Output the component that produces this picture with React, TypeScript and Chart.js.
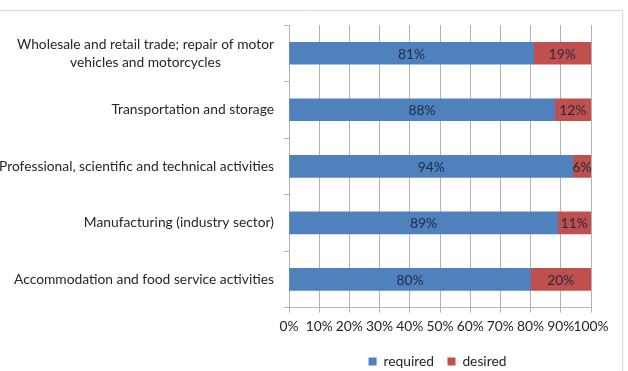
import React, { useEffect, useRef } from "react";
import { Chart, registerables } from "chart.js";

Chart.register(...registerables);

const categories: string[][] = [
  ["Wholesale and retail trade; repair of motor", "vehicles and motorcycles"],
  ["Transportation and storage"],
  ["Professional, scientific and technical activities"],
  ["Manufacturing (industry sector)"],
  ["Accommodation and food service activities"],
];
const required = [81, 88, 94, 89, 80];
const desired = [19, 12, 6, 11, 20];
const xTicks = [0, 10, 20, 30, 40, 50, 60, 70, 80, 90, 100];

const FONT = "Lato, 'Open Sans', sans-serif";
const FS = 13.8;
const TEXT = "#262626";
const GRID = "#b3b3b3";

const decorPlugin = {
  id: "decor",
  beforeDraw(chart: any) {
    const ctx = chart.ctx;
    ctx.save();
    ctx.strokeStyle = "#d9d9d9";
    ctx.lineWidth = 1;
    ctx.beginPath();
    ctx.moveTo(0, 10.5);
    ctx.lineTo(622.5, 10.5);
    ctx.lineTo(622.5, 371);
    ctx.stroke();
    ctx.restore();
  },
  afterDraw(chart: any) {
    const ctx = chart.ctx;
    const y = chart.scales.y;
    ctx.save();
    ctx.font = `${FS}px ${FONT}`;
    ctx.fillStyle = TEXT;
    ctx.textBaseline = "middle";
    const rightX = y.left - 10;
    categories.forEach((lines, i) => {
      const cy = y.getPixelForValue(i);
      const widths = lines.map((l) => ctx.measureText(l).width);
      const maxW = Math.max(...widths);
      const lh = 18;
      lines.forEach((l, j) => {
        const ly = cy + (j - (lines.length - 1) / 2) * lh;
        if (lines.length > 1) {
          ctx.textAlign = "center";
          ctx.fillText(l, rightX - maxW / 2, ly);
        } else {
          ctx.textAlign = "right";
          ctx.fillText(l, rightX, ly);
        }
      });
    });
    // data labels
    ctx.fillStyle = "#1f2a44";
    ctx.textAlign = "center";
    chart.data.datasets.forEach((ds: any, di: number) => {
      const meta = chart.getDatasetMeta(di);
      meta.data.forEach((bar: any, i: number) => {
        const { x, base, y: by } = bar.getProps(["x", "base", "y"], true);
        ctx.fillText(ds.data[i] + "%", (x + base) / 2, by + 1);
      });
    });
    ctx.restore();
  },
};

export default function App() {
  const ref = useRef<HTMLCanvasElement>(null);
  useEffect(() => {
    const chart = new Chart(ref.current!, {
      type: "bar",
      data: {
        labels: categories.map((c) => c.join(" ")),
        datasets: [
          { label: "required", data: required, backgroundColor: "#4f81bd", barThickness: 22 },
          { label: "desired", data: desired, backgroundColor: "#c0504d", barThickness: 22 },
        ],
      },
      options: {
        indexAxis: "y",
        responsive: false,
        animation: false,
        layout: { padding: { left: 284, right: 37, top: 25, bottom: -7.5 } },
        scales: {
          x: {
            stacked: true,
            min: 0,
            max: 100,
            afterBuildTicks: (s: any) => {
              s.ticks = xTicks.map((v) => ({ value: v }));
            },
            ticks: {
              callback: (v: any) => v + "%",
              color: TEXT,
              font: { family: FONT, size: FS },
              padding: 6,
              maxRotation: 0,
              autoSkip: false,
            },
            grid: { color: GRID, tickLength: 5, drawTicks: true },
            border: { color: GRID },
          },
          y: {
            stacked: true,
            ticks: { display: false },
            grid: { offset: true, drawOnChartArea: false, color: GRID, tickLength: 5 },
            border: { color: GRID },
          },
        },
        plugins: {
          legend: {
            position: "bottom",
            labels: {
              boxWidth: 8,
              boxHeight: 8,
              color: TEXT,
              font: { family: FONT, size: FS },
              padding: 13.5,
            },
          },
          tooltip: { enabled: false },
        },
      },
      plugins: [decorPlugin],
    } as any);
    return () => chart.destroy();
  }, []);
  return (
    <div style={{ position: "fixed", left: 0, top: 0, width: 628, height: 371, background: "#fff" }}>
      <canvas ref={ref} width={628} height={371} style={{ width: 628, height: 371 }} />
    </div>
  );
}
